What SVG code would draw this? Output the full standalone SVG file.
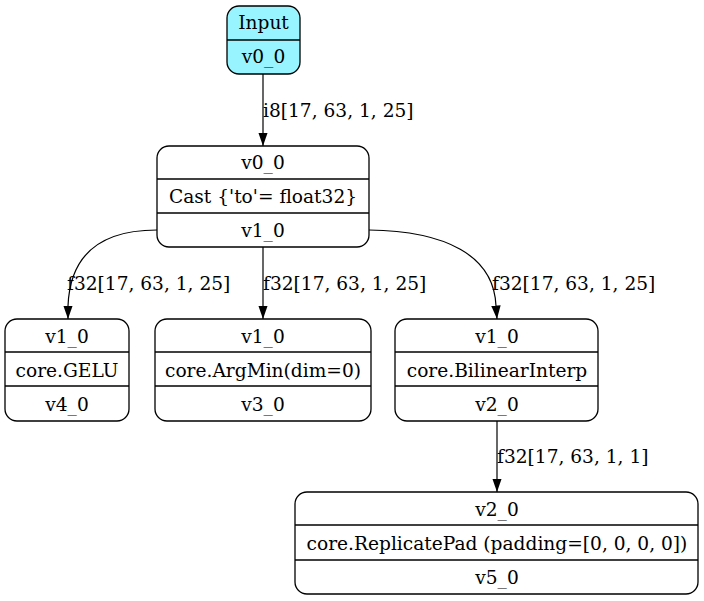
<svg xmlns="http://www.w3.org/2000/svg" width="704" height="601" viewBox="0 0 704 601">
  <defs>
    <marker id="arrow" viewBox="0 0 13.5 10" refX="13.5" refY="5" markerWidth="13.5" markerHeight="10" markerUnits="userSpaceOnUse" orient="auto">
      <path d="M0,0.3 L13.5,5 L0,9.7 Z" fill="#000"/>
    </marker>
  </defs>
  <style>
    text { font-family: "DejaVu Serif", "Liberation Serif", serif; font-size: 18.6px; fill: #000; }
    .node text { text-anchor: middle; }
    .box { fill: none; stroke: #000; stroke-width: 1.3; }
    .sep { stroke: #000; stroke-width: 1.3; }
    .edge { fill: none; stroke: #000; stroke-width: 1.2; marker-end: url(#arrow); }
  </style>
  <rect width="704" height="601" fill="#fff"/>

  <g id="edges">
    <path class="edge" d="M263,74 L263,146"/>
    <text x="263" y="117">i8[17, 63, 1, 25]</text>
    <path class="edge" d="M157,230 C100,230 70,255 68,306 L68,319"/>
    <text x="67" y="290">f32[17, 63, 1, 25]</text>
    <path class="edge" d="M263,247 L263,319"/>
    <text x="263" y="290">f32[17, 63, 1, 25]</text>
    <path class="edge" d="M369,230 C445,231 494,255 496,306 L497,319"/>
    <text x="492" y="290">f32[17, 63, 1, 25]</text>
    <path class="edge" d="M497,421 L497,492"/>
    <text x="497" y="463">f32[17, 63, 1, 1]</text>
  </g>

  <g id="input" class="node">
    <rect x="227" y="6" width="73" height="68" rx="12" fill="#98f5ff" stroke="#000" stroke-width="1.3"/>
    <line class="sep" x1="227" y1="40" x2="300" y2="40"/>
    <text x="263.5" y="29">Input</text>
    <text x="263.5" y="63">v0_0</text>
  </g>

  <g id="cast" class="node">
    <rect class="box" x="157" y="146" width="212" height="101" rx="12"/>
    <line class="sep" x1="157" y1="179" x2="369" y2="179"/>
    <line class="sep" x1="157" y1="213" x2="369" y2="213"/>
    <text x="263" y="168.5">v0_0</text>
    <text x="263" y="202.5">Cast {'to'= float32}</text>
    <text x="263" y="236.5">v1_0</text>
  </g>

  <g id="gelu" class="node">
    <rect class="box" x="5" y="319" width="124" height="102" rx="12"/>
    <line class="sep" x1="5" y1="352" x2="129" y2="352"/>
    <line class="sep" x1="5" y1="386" x2="129" y2="386"/>
    <text x="67" y="342.5">v1_0</text>
    <text x="67" y="376.5">core.GELU</text>
    <text x="67" y="410.5">v4_0</text>
  </g>

  <g id="argmin" class="node">
    <rect class="box" x="155" y="319" width="216" height="102" rx="12"/>
    <line class="sep" x1="155" y1="352" x2="371" y2="352"/>
    <line class="sep" x1="155" y1="386" x2="371" y2="386"/>
    <text x="263" y="342.5">v1_0</text>
    <text x="263" y="376.5">core.ArgMin(dim=0)</text>
    <text x="263" y="410.5">v3_0</text>
  </g>

  <g id="bilinear" class="node">
    <rect class="box" x="395" y="319" width="203" height="102" rx="12"/>
    <line class="sep" x1="395" y1="352" x2="598" y2="352"/>
    <line class="sep" x1="395" y1="386" x2="598" y2="386"/>
    <text x="497" y="342.5">v1_0</text>
    <text x="497" y="376.5">core.BilinearInterp</text>
    <text x="497" y="410.5">v2_0</text>
  </g>

  <g id="replicatepad" class="node">
    <rect class="box" x="295" y="492" width="403" height="102" rx="12"/>
    <line class="sep" x1="295" y1="525" x2="698" y2="525"/>
    <line class="sep" x1="295" y1="560" x2="698" y2="560"/>
    <text x="497" y="515.5">v2_0</text>
    <text x="497" y="549.5">core.ReplicatePad (padding=[0, 0, 0, 0])</text>
    <text x="497" y="583.5">v5_0</text>
  </g>
</svg>
